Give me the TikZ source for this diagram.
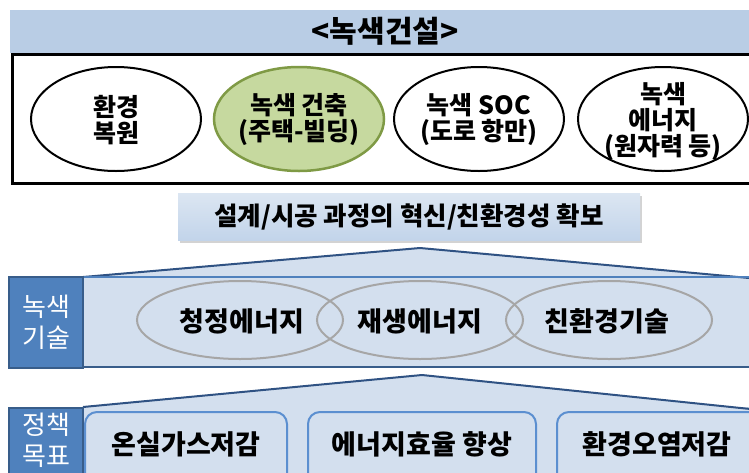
\documentclass[tikz,border=0pt]{standalone}
\usepackage{fontspec}
\setmainfont{Noto Sans CJK KR}
\usetikzlibrary{shadows,shapes.geometric}
\definecolor{bannerblue}{HTML}{B9CDE5}
\definecolor{houseblue}{HTML}{D3DFEE}
\definecolor{roofnavy}{HTML}{2F5283}
\definecolor{lineblue}{HTML}{4F81BD}
\definecolor{labelblue}{HTML}{4F81BD}
\definecolor{labeledge}{HTML}{385D8A}
\definecolor{greenfill}{HTML}{C6D99F}
\definecolor{greenedge}{HTML}{7F9A45}
\definecolor{grayedge}{HTML}{A6A6A6}
\definecolor{boxedge}{HTML}{5B8FD0}
\definecolor{bantop}{HTML}{DCE6F2}
\definecolor{banbot}{HTML}{C2D4EA}
\tikzset{
  ktext/.style={font=\fontsize{25}{26}\selectfont\bfseries, align=center, text=black},
  bigell/.style={ellipse, draw=black, line width=2pt, minimum width=170pt, minimum height=104pt, inner sep=0pt},
  grayell/.style={ellipse, draw=grayedge, line width=2pt, minimum width=206pt, minimum height=78pt, inner sep=0pt},
  labelbox/.style={draw=labeledge, line width=1.5pt, fill=labelblue},
  labeltext/.style={font=\fontsize{26}{31}\selectfont, text=white, align=center},
  goalbox/.style={draw=boxedge, line width=2pt, fill=houseblue, rounded corners=12pt},
  goaltext/.style={font=\fontsize{27}{30}\selectfont\bfseries, text=black},
  midtext/.style={font=\fontsize{27}{30}\selectfont\bfseries, text=black},
  roof/.style={fill=houseblue, draw=roofnavy, line width=2pt, line join=round}
}
\begin{document}
\begin{tikzpicture}[x=1pt,y=-1pt]
\useasboundingbox (0,0) rectangle (749,472);
% top banner
\fill[bannerblue] (10,10) rectangle (760,53);
\node[ktext, font=\fontsize{30}{32}\selectfont\bfseries] (title) at (385,31) {<녹색건설>};
\draw[line width=3pt, black] (12,54) rectangle (765,183);
% ellipses
\node[bigell] (e1) at (116,119) {};
\node[bigell, fill=greenfill, draw=greenedge, line width=2.5pt] (e2) at (299,119) {};
\node[bigell] (e3) at (479,119) {};
\node[bigell] (e4) at (663,119) {};
\node[ktext] (t1) at (116,120) {환경\\복원};
\node[ktext] (t2) at (299,120) {녹색 건축\\(주택-빌딩)};
\node[ktext] (t3) at (479,120) {녹색 SOC\\(도로 항만)};
\node[ktext] (t4) at (663,122) {녹색\\에너지\\(원자력 등)};
% banner 2
\node[draw=none, top color=bantop, bottom color=banbot, minimum width=462pt, minimum height=47pt,
      drop shadow={shadow xshift=2pt, shadow yshift=-3pt, opacity=0.35}] (b2) at (409,216.5) {};
\node[ktext, font=\fontsize{25.5}{28}\selectfont\bfseries] (b2t) at (409,217) {설계/시공 과정의 혁신/친환경성 확보};
% house 1
\coordinate (r1l) at (83,277);
\coordinate (r1a) at (420,248);
\coordinate (r1r) at (760,279);
\fill[houseblue] (83,277) rectangle (760,367);
\draw[roof] (r1l) -- (r1a) -- (r1r);
\draw[lineblue, line width=2pt] (83,277) -- (760,277);
\draw[labeledge, line width=2pt] (83,367) -- (760,367);
\draw[labelbox] (9,277) rectangle (83,368);
\node[labeltext] (l1) at (46,322) {녹색\\기술};
\node[grayell] (g1) at (240,320) {};
\node[grayell] (g2) at (420,320) {};
\node[grayell] (g3) at (609,320) {};
\node[midtext] at (242,321) {청정에너지};
\node[midtext] at (420,321) {재생에너지};
\node[midtext] at (607,321) {친환경기술};
% house 2
\coordinate (r2l) at (83,407);
\coordinate (r2a) at (422,375);
\coordinate (r2r) at (760,410);
\fill[houseblue] (83,407) rectangle (760,480);
\draw[roof] (r2l) -- (r2a) -- (r2r);
\draw[labelbox] (9,408) rectangle (83,485);
\node[labeltext] (l2) at (46,440) {정책\\목표};
\node[goalbox, minimum width=202pt, minimum height=80pt] (p1) at (186,452) {};
\node[goalbox, minimum width=228pt, minimum height=80pt] (p2) at (422,452) {};
\node[goalbox, minimum width=210pt, minimum height=80pt] (p3) at (662,452) {};
\node[goaltext] at (186,444) {온실가스저감};
\node[goaltext] at (422,444) {에너지효율 향상};
\node[goaltext] at (657,444) {환경오염저감};
\end{tikzpicture}
\end{document}
